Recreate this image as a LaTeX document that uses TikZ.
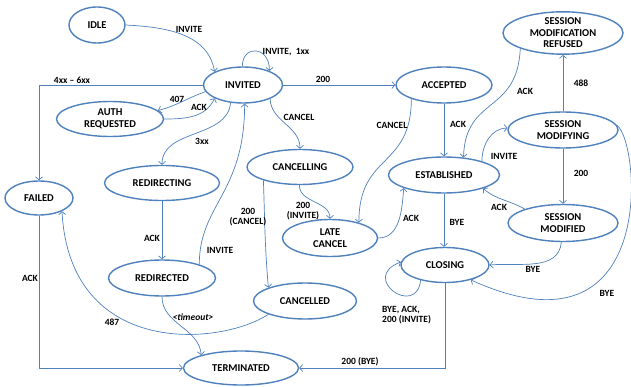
\documentclass[tikz,border=0pt]{standalone}
\usepackage{fontspec}
\setmainfont{Carlito}
\usetikzlibrary{shapes.geometric,arrows.meta}
\definecolor{stateblue}{RGB}{79,129,189}
\begin{document}
\begin{tikzpicture}[x=1pt,y=1pt,
  state/.style={ellipse, draw=stateblue, line width=1.4pt, inner sep=0pt,
    font=\fontsize{10.5}{11.5}\selectfont\bfseries, align=center},
  link/.style={draw=stateblue, line width=0.7pt,
    -{Straight Barb[length=3pt,width=7pt]}},
  lbl/.style={font=\fontsize{9.5}{10.5}\selectfont\bfseries, inner sep=1pt, align=center}]
\path[fill=white] (0,0) rectangle (631,386);
\useasboundingbox (0,0) rectangle (631,386);

% states
\node[state, minimum width=56pt,  minimum height=36pt] (idle)        at (97,361)  {IDLE};
\node[state, minimum width=79pt,  minimum height=36pt] (invited)     at (243,301) {INVITED};
\node[state, minimum width=107pt, minimum height=35pt] (auth)        at (110,267) {AUTH\\REQUESTED};
\node[state, minimum width=115pt, minimum height=35pt] (redirecting) at (162,203) {REDIRECTING};
\node[state, minimum width=106pt, minimum height=35pt] (cancelling)  at (300,219) {CANCELLING};
\node[state, minimum width=68pt,  minimum height=34pt] (failed)      at (39,188)  {FAILED};
\node[state, minimum width=107pt, minimum height=36pt] (redirected)  at (162,108) {REDIRECTED};
\node[state, minimum width=103pt, minimum height=36pt] (cancelled)   at (305,85)  {CANCELLED};
\node[state, minimum width=115pt, minimum height=34pt] (terminated)  at (241,18)  {TERMINATED};
\node[state, minimum width=95pt,  minimum height=37pt] (latecancel)  at (330,148) {LATE\\CANCEL};
\node[state, minimum width=96pt,  minimum height=36pt] (accepted)    at (444,301) {ACCEPTED};
\node[state, minimum width=111pt, minimum height=36pt] (established) at (444,211) {ESTABLISHED};
\node[state, minimum width=120pt, minimum height=40pt] (refused)     at (563,353) {SESSION\\MODIFICATION\\REFUSED};
\node[state, minimum width=110pt, minimum height=36pt] (modifying)   at (563,256) {SESSION\\MODIFYING};
\node[state, minimum width=110pt, minimum height=37pt] (modified)    at (563,163) {SESSION\\MODIFIED};
\node[state, minimum width=88pt,  minimum height=35pt] (closing)     at (445,121) {CLOSING};

% transitions
\draw[link] (idle.east) to[out=-3,in=100] (invited.155);
\node[lbl] (l-invite) at (189,357) {INVITE};

\draw[link] (invited.92) .. controls +(0,22) and +(0,25) .. (invited.28);
\node[lbl] (l-invite1xx) at (286,334) {INVITE,\ \ 1xx};

\draw[link] (invited.west) -| (failed.north);
\node[lbl] (l-4xx) at (72,306) {4xx -- 6xx};

\draw[link] (invited.east) -- (accepted.west);
\node[lbl] (l-200a) at (323,307) {200};

\draw[link] (invited.190) to[out=200,in=15] (auth.10);
\node[lbl] (l-407) at (177,287) {407};

\draw[link] (auth.east) to[out=0,in=245] (invited.205);
\node[lbl] (l-ackauth) at (199,279) {ACK};

\draw[link] (invited.235) to[out=265,in=90] (redirecting.north);
\node[lbl] (l-3xx) at (202,245) {3xx};

\draw[link] (invited.-27) to[out=-88,in=90] (cancelling.north);
\node[lbl] (l-cancel1) at (299,269) {CANCEL};

\draw[link] (redirecting.south) -- (redirected.north);
\node[lbl] (l-ackredir) at (152,148) {ACK};

\draw[link] (redirected.20) .. controls +(0,60) and +(0,-90) .. (invited.275);
\node[lbl] (l-invite2) at (220,136) {INVITE};

\draw[link] (cancelling.200) to[out=-88,in=95] (cancelled.160);
\node[lbl] (l-200cancel) at (248,169) {200\\(CANCEL)};

\draw[link] (cancelling.-92) to[out=-90,in=90] (latecancel.north);
\node[lbl] (l-200invite) at (303,175) {200\\(INVITE)};

\draw[link] (accepted.203) .. controls +(0,-70) and +(0,70) .. (latecancel.28);
\node[lbl] (l-cancel2) at (392,261) {CANCEL};

\draw[link] (accepted.south) -- (established.north);
\node[lbl] (l-ackacc) at (458,262) {ACK};

\draw[link] (latecancel.east) to[out=0,in=265] (established.198);
\node[lbl] (l-acklate) at (411,168) {ACK};

\draw[link] (refused.200) .. controls +(-3,-66) and +(2,62) .. (established.42);
\node[lbl] (l-ackref) at (525,295) {ACK};

\draw[link] (established.20) to[out=90,in=180] (modifying.178);
\node[lbl] (l-invite3) at (504,230) {INVITE};

\draw[link] (modifying.north) -- (refused.south);
\node[lbl] (l-488) at (581,303) {488};

\draw[link] (modifying.south) -- (modified.north);
\node[lbl] (l-200m) at (581,213) {200};

\draw[link] (modified.160) to[out=150,in=-40] (established.-19);
\node[lbl] (l-ackmod) at (499,179) {ACK};

\draw[link] (established.south) -- (established.south |- closing.north);
\node[lbl] (l-bye1) at (457,164) {BYE};

\draw[link] (modified.-95) to[out=-95,in=5] (closing.east);
\node[lbl] (l-bye2) at (533,117) {BYE};

\draw[link] (modifying.5) .. controls (640,245) and (660,20) .. (closing.-30);
\node[lbl] (l-bye3) at (607,93) {BYE};

\draw[link] (closing.212) .. controls +(-4,-38) and +(-42,-16) .. (closing.176);
\node[lbl, align=left, anchor=west] (l-closeloop) at (381,71) {BYE, ACK,\\200 (INVITE)};

\draw[link] (closing.south) |- (terminated.east);
\node[lbl, anchor=south] (l-200bye) at (360,19) {200 (BYE)};

\draw[link] (failed.south) |- (terminated.west);
\node[lbl] (l-ackfail) at (30,108) {ACK};

\draw[link] (cancelled.200) .. controls (220,40) and (70,28) .. (failed.-30);
\node[lbl] (l-487) at (112,64) {487};

\draw[link] (redirected.south) to[out=-90,in=95] (terminated.162);
\node[lbl] (l-timeout) at (193,69) {\itshape <timeout>};
\end{tikzpicture}
\end{document}
